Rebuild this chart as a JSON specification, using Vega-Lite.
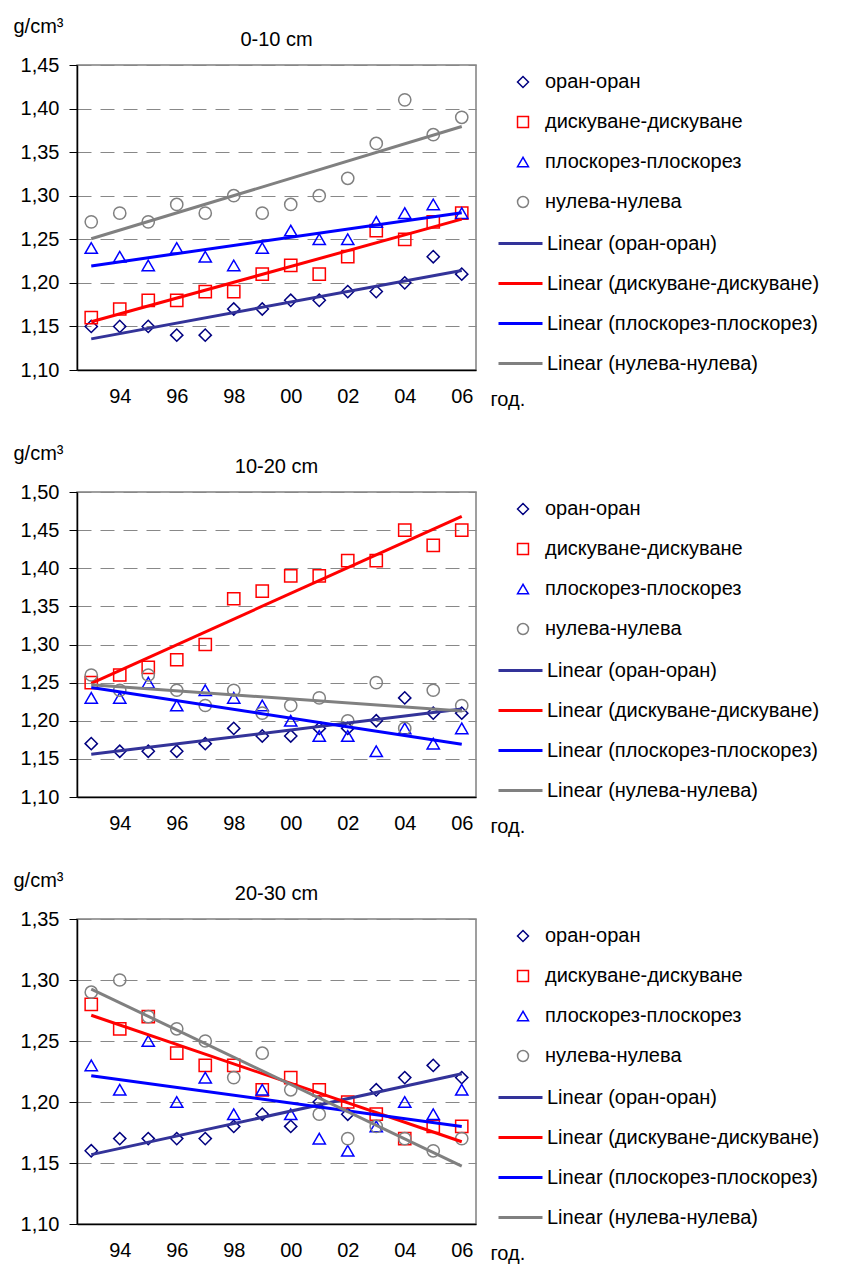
{
  "$schema": "https://vega.github.io/schema/vega-lite/v6.json",
  "padding": {"left": 12, "top": 15, "right": 5, "bottom": 5},
  "background": "white",
  "config": {
    "font": "Liberation Sans",
    "view": {"stroke": "#808080", "strokeWidth": 1.5},
    "title": {"fontSize": 20, "fontWeight": "normal", "color": "#000000", "offset": -34},
    "axis": {"labelFontSize": 20, "labelColor": "#000000", "labelOverlap": false, "titleFontSize": 20, "titleFontWeight": "normal", "titleColor": "#000000", "domainColor": "#000000", "domainWidth": 1.5, "tickColor": "#000000"},
    "legend": {"labelFontSize": 20, "labelColor": "#000000", "labelLimit": 400}
  },
  "datasets": {
    "d": [
      {"depth":"0-10","series":"оран-оран","trend":"Linear (оран-оран)","year":1993,"value":1.15},
      {"depth":"0-10","series":"оран-оран","trend":"Linear (оран-оран)","year":1994,"value":1.15},
      {"depth":"0-10","series":"оран-оран","trend":"Linear (оран-оран)","year":1995,"value":1.15},
      {"depth":"0-10","series":"оран-оран","trend":"Linear (оран-оран)","year":1996,"value":1.14},
      {"depth":"0-10","series":"оран-оран","trend":"Linear (оран-оран)","year":1997,"value":1.14},
      {"depth":"0-10","series":"оран-оран","trend":"Linear (оран-оран)","year":1998,"value":1.17},
      {"depth":"0-10","series":"оран-оран","trend":"Linear (оран-оран)","year":1999,"value":1.17},
      {"depth":"0-10","series":"оран-оран","trend":"Linear (оран-оран)","year":2000,"value":1.18},
      {"depth":"0-10","series":"оран-оран","trend":"Linear (оран-оран)","year":2001,"value":1.18},
      {"depth":"0-10","series":"оран-оран","trend":"Linear (оран-оран)","year":2002,"value":1.19},
      {"depth":"0-10","series":"оран-оран","trend":"Linear (оран-оран)","year":2003,"value":1.19},
      {"depth":"0-10","series":"оран-оран","trend":"Linear (оран-оран)","year":2004,"value":1.20},
      {"depth":"0-10","series":"оран-оран","trend":"Linear (оран-оран)","year":2005,"value":1.23},
      {"depth":"0-10","series":"оран-оран","trend":"Linear (оран-оран)","year":2006,"value":1.21},
      {"depth":"0-10","series":"дискуване-дискуване","trend":"Linear (дискуване-дискуване)","year":1993,"value":1.16},
      {"depth":"0-10","series":"дискуване-дискуване","trend":"Linear (дискуване-дискуване)","year":1994,"value":1.17},
      {"depth":"0-10","series":"дискуване-дискуване","trend":"Linear (дискуване-дискуване)","year":1995,"value":1.18},
      {"depth":"0-10","series":"дискуване-дискуване","trend":"Linear (дискуване-дискуване)","year":1996,"value":1.18},
      {"depth":"0-10","series":"дискуване-дискуване","trend":"Linear (дискуване-дискуване)","year":1997,"value":1.19},
      {"depth":"0-10","series":"дискуване-дискуване","trend":"Linear (дискуване-дискуване)","year":1998,"value":1.19},
      {"depth":"0-10","series":"дискуване-дискуване","trend":"Linear (дискуване-дискуване)","year":1999,"value":1.21},
      {"depth":"0-10","series":"дискуване-дискуване","trend":"Linear (дискуване-дискуване)","year":2000,"value":1.22},
      {"depth":"0-10","series":"дискуване-дискуване","trend":"Linear (дискуване-дискуване)","year":2001,"value":1.21},
      {"depth":"0-10","series":"дискуване-дискуване","trend":"Linear (дискуване-дискуване)","year":2002,"value":1.23},
      {"depth":"0-10","series":"дискуване-дискуване","trend":"Linear (дискуване-дискуване)","year":2003,"value":1.26},
      {"depth":"0-10","series":"дискуване-дискуване","trend":"Linear (дискуване-дискуване)","year":2004,"value":1.25},
      {"depth":"0-10","series":"дискуване-дискуване","trend":"Linear (дискуване-дискуване)","year":2005,"value":1.27},
      {"depth":"0-10","series":"дискуване-дискуване","trend":"Linear (дискуване-дискуване)","year":2006,"value":1.28},
      {"depth":"0-10","series":"плоскорез-плоскорез","trend":"Linear (плоскорез-плоскорез)","year":1993,"value":1.24},
      {"depth":"0-10","series":"плоскорез-плоскорез","trend":"Linear (плоскорез-плоскорез)","year":1994,"value":1.23},
      {"depth":"0-10","series":"плоскорез-плоскорез","trend":"Linear (плоскорез-плоскорез)","year":1995,"value":1.22},
      {"depth":"0-10","series":"плоскорез-плоскорез","trend":"Linear (плоскорез-плоскорез)","year":1996,"value":1.24},
      {"depth":"0-10","series":"плоскорез-плоскорез","trend":"Linear (плоскорез-плоскорез)","year":1997,"value":1.23},
      {"depth":"0-10","series":"плоскорез-плоскорез","trend":"Linear (плоскорез-плоскорез)","year":1998,"value":1.22},
      {"depth":"0-10","series":"плоскорез-плоскорез","trend":"Linear (плоскорез-плоскорез)","year":1999,"value":1.24},
      {"depth":"0-10","series":"плоскорез-плоскорез","trend":"Linear (плоскорез-плоскорез)","year":2000,"value":1.26},
      {"depth":"0-10","series":"плоскорез-плоскорез","trend":"Linear (плоскорез-плоскорез)","year":2001,"value":1.25},
      {"depth":"0-10","series":"плоскорез-плоскорез","trend":"Linear (плоскорез-плоскорез)","year":2002,"value":1.25},
      {"depth":"0-10","series":"плоскорез-плоскорез","trend":"Linear (плоскорез-плоскорез)","year":2003,"value":1.27},
      {"depth":"0-10","series":"плоскорез-плоскорез","trend":"Linear (плоскорез-плоскорез)","year":2004,"value":1.28},
      {"depth":"0-10","series":"плоскорез-плоскорез","trend":"Linear (плоскорез-плоскорез)","year":2005,"value":1.29},
      {"depth":"0-10","series":"плоскорез-плоскорез","trend":"Linear (плоскорез-плоскорез)","year":2006,"value":1.28},
      {"depth":"0-10","series":"нулева-нулева","trend":"Linear (нулева-нулева)","year":1993,"value":1.27},
      {"depth":"0-10","series":"нулева-нулева","trend":"Linear (нулева-нулева)","year":1994,"value":1.28},
      {"depth":"0-10","series":"нулева-нулева","trend":"Linear (нулева-нулева)","year":1995,"value":1.27},
      {"depth":"0-10","series":"нулева-нулева","trend":"Linear (нулева-нулева)","year":1996,"value":1.29},
      {"depth":"0-10","series":"нулева-нулева","trend":"Linear (нулева-нулева)","year":1997,"value":1.28},
      {"depth":"0-10","series":"нулева-нулева","trend":"Linear (нулева-нулева)","year":1998,"value":1.30},
      {"depth":"0-10","series":"нулева-нулева","trend":"Linear (нулева-нулева)","year":1999,"value":1.28},
      {"depth":"0-10","series":"нулева-нулева","trend":"Linear (нулева-нулева)","year":2000,"value":1.29},
      {"depth":"0-10","series":"нулева-нулева","trend":"Linear (нулева-нулева)","year":2001,"value":1.30},
      {"depth":"0-10","series":"нулева-нулева","trend":"Linear (нулева-нулева)","year":2002,"value":1.32},
      {"depth":"0-10","series":"нулева-нулева","trend":"Linear (нулева-нулева)","year":2003,"value":1.36},
      {"depth":"0-10","series":"нулева-нулева","trend":"Linear (нулева-нулева)","year":2004,"value":1.41},
      {"depth":"0-10","series":"нулева-нулева","trend":"Linear (нулева-нулева)","year":2005,"value":1.37},
      {"depth":"0-10","series":"нулева-нулева","trend":"Linear (нулева-нулева)","year":2006,"value":1.39},

      {"depth":"10-20","series":"оран-оран","trend":"Linear (оран-оран)","year":1993,"value":1.17},
      {"depth":"10-20","series":"оран-оран","trend":"Linear (оран-оран)","year":1994,"value":1.16},
      {"depth":"10-20","series":"оран-оран","trend":"Linear (оран-оран)","year":1995,"value":1.16},
      {"depth":"10-20","series":"оран-оран","trend":"Linear (оран-оран)","year":1996,"value":1.16},
      {"depth":"10-20","series":"оран-оран","trend":"Linear (оран-оран)","year":1997,"value":1.17},
      {"depth":"10-20","series":"оран-оран","trend":"Linear (оран-оран)","year":1998,"value":1.19},
      {"depth":"10-20","series":"оран-оран","trend":"Linear (оран-оран)","year":1999,"value":1.18},
      {"depth":"10-20","series":"оран-оран","trend":"Linear (оран-оран)","year":2000,"value":1.18},
      {"depth":"10-20","series":"оран-оран","trend":"Linear (оран-оран)","year":2001,"value":1.19},
      {"depth":"10-20","series":"оран-оран","trend":"Linear (оран-оран)","year":2002,"value":1.19},
      {"depth":"10-20","series":"оран-оран","trend":"Linear (оран-оран)","year":2003,"value":1.20},
      {"depth":"10-20","series":"оран-оран","trend":"Linear (оран-оран)","year":2004,"value":1.23},
      {"depth":"10-20","series":"оран-оран","trend":"Linear (оран-оран)","year":2005,"value":1.21},
      {"depth":"10-20","series":"оран-оран","trend":"Linear (оран-оран)","year":2006,"value":1.21},
      {"depth":"10-20","series":"дискуване-дискуване","trend":"Linear (дискуване-дискуване)","year":1993,"value":1.25},
      {"depth":"10-20","series":"дискуване-дискуване","trend":"Linear (дискуване-дискуване)","year":1994,"value":1.26},
      {"depth":"10-20","series":"дискуване-дискуване","trend":"Linear (дискуване-дискуване)","year":1995,"value":1.27},
      {"depth":"10-20","series":"дискуване-дискуване","trend":"Linear (дискуване-дискуване)","year":1996,"value":1.28},
      {"depth":"10-20","series":"дискуване-дискуване","trend":"Linear (дискуване-дискуване)","year":1997,"value":1.30},
      {"depth":"10-20","series":"дискуване-дискуване","trend":"Linear (дискуване-дискуване)","year":1998,"value":1.36},
      {"depth":"10-20","series":"дискуване-дискуване","trend":"Linear (дискуване-дискуване)","year":1999,"value":1.37},
      {"depth":"10-20","series":"дискуване-дискуване","trend":"Linear (дискуване-дискуване)","year":2000,"value":1.39},
      {"depth":"10-20","series":"дискуване-дискуване","trend":"Linear (дискуване-дискуване)","year":2001,"value":1.39},
      {"depth":"10-20","series":"дискуване-дискуване","trend":"Linear (дискуване-дискуване)","year":2002,"value":1.41},
      {"depth":"10-20","series":"дискуване-дискуване","trend":"Linear (дискуване-дискуване)","year":2003,"value":1.41},
      {"depth":"10-20","series":"дискуване-дискуване","trend":"Linear (дискуване-дискуване)","year":2004,"value":1.45},
      {"depth":"10-20","series":"дискуване-дискуване","trend":"Linear (дискуване-дискуване)","year":2005,"value":1.43},
      {"depth":"10-20","series":"дискуване-дискуване","trend":"Linear (дискуване-дискуване)","year":2006,"value":1.45},
      {"depth":"10-20","series":"плоскорез-плоскорез","trend":"Linear (плоскорез-плоскорез)","year":1993,"value":1.23},
      {"depth":"10-20","series":"плоскорез-плоскорез","trend":"Linear (плоскорез-плоскорез)","year":1994,"value":1.23},
      {"depth":"10-20","series":"плоскорез-плоскорез","trend":"Linear (плоскорез-плоскорез)","year":1995,"value":1.25},
      {"depth":"10-20","series":"плоскорез-плоскорез","trend":"Linear (плоскорез-плоскорез)","year":1996,"value":1.22},
      {"depth":"10-20","series":"плоскорез-плоскорез","trend":"Linear (плоскорез-плоскорез)","year":1997,"value":1.24},
      {"depth":"10-20","series":"плоскорез-плоскорез","trend":"Linear (плоскорез-плоскорез)","year":1998,"value":1.23},
      {"depth":"10-20","series":"плоскорез-плоскорез","trend":"Linear (плоскорез-плоскорез)","year":1999,"value":1.22},
      {"depth":"10-20","series":"плоскорез-плоскорез","trend":"Linear (плоскорез-плоскорез)","year":2000,"value":1.20},
      {"depth":"10-20","series":"плоскорез-плоскорез","trend":"Linear (плоскорез-плоскорез)","year":2001,"value":1.18},
      {"depth":"10-20","series":"плоскорез-плоскорез","trend":"Linear (плоскорез-плоскорез)","year":2002,"value":1.18},
      {"depth":"10-20","series":"плоскорез-плоскорез","trend":"Linear (плоскорез-плоскорез)","year":2003,"value":1.16},
      {"depth":"10-20","series":"плоскорез-плоскорез","trend":"Linear (плоскорез-плоскорез)","year":2004,"value":1.19},
      {"depth":"10-20","series":"плоскорез-плоскорез","trend":"Linear (плоскорез-плоскорез)","year":2005,"value":1.17},
      {"depth":"10-20","series":"плоскорез-плоскорез","trend":"Linear (плоскорез-плоскорез)","year":2006,"value":1.19},
      {"depth":"10-20","series":"нулева-нулева","trend":"Linear (нулева-нулева)","year":1993,"value":1.26},
      {"depth":"10-20","series":"нулева-нулева","trend":"Linear (нулева-нулева)","year":1994,"value":1.24},
      {"depth":"10-20","series":"нулева-нулева","trend":"Linear (нулева-нулева)","year":1995,"value":1.26},
      {"depth":"10-20","series":"нулева-нулева","trend":"Linear (нулева-нулева)","year":1996,"value":1.24},
      {"depth":"10-20","series":"нулева-нулева","trend":"Linear (нулева-нулева)","year":1997,"value":1.22},
      {"depth":"10-20","series":"нулева-нулева","trend":"Linear (нулева-нулева)","year":1998,"value":1.24},
      {"depth":"10-20","series":"нулева-нулева","trend":"Linear (нулева-нулева)","year":1999,"value":1.21},
      {"depth":"10-20","series":"нулева-нулева","trend":"Linear (нулева-нулева)","year":2000,"value":1.22},
      {"depth":"10-20","series":"нулева-нулева","trend":"Linear (нулева-нулева)","year":2001,"value":1.23},
      {"depth":"10-20","series":"нулева-нулева","trend":"Linear (нулева-нулева)","year":2002,"value":1.20},
      {"depth":"10-20","series":"нулева-нулева","trend":"Linear (нулева-нулева)","year":2003,"value":1.25},
      {"depth":"10-20","series":"нулева-нулева","trend":"Linear (нулева-нулева)","year":2004,"value":1.19},
      {"depth":"10-20","series":"нулева-нулева","trend":"Linear (нулева-нулева)","year":2005,"value":1.24},
      {"depth":"10-20","series":"нулева-нулева","trend":"Linear (нулева-нулева)","year":2006,"value":1.22},

      {"depth":"20-30","series":"оран-оран","trend":"Linear (оран-оран)","year":1993,"value":1.16},
      {"depth":"20-30","series":"оран-оран","trend":"Linear (оран-оран)","year":1994,"value":1.17},
      {"depth":"20-30","series":"оран-оран","trend":"Linear (оран-оран)","year":1995,"value":1.17},
      {"depth":"20-30","series":"оран-оран","trend":"Linear (оран-оран)","year":1996,"value":1.17},
      {"depth":"20-30","series":"оран-оран","trend":"Linear (оран-оран)","year":1997,"value":1.17},
      {"depth":"20-30","series":"оран-оран","trend":"Linear (оран-оран)","year":1998,"value":1.18},
      {"depth":"20-30","series":"оран-оран","trend":"Linear (оран-оран)","year":1999,"value":1.19},
      {"depth":"20-30","series":"оран-оран","trend":"Linear (оран-оран)","year":2000,"value":1.18},
      {"depth":"20-30","series":"оран-оран","trend":"Linear (оран-оран)","year":2001,"value":1.20},
      {"depth":"20-30","series":"оран-оран","trend":"Linear (оран-оран)","year":2002,"value":1.19},
      {"depth":"20-30","series":"оран-оран","trend":"Linear (оран-оран)","year":2003,"value":1.21},
      {"depth":"20-30","series":"оран-оран","trend":"Linear (оран-оран)","year":2004,"value":1.22},
      {"depth":"20-30","series":"оран-оран","trend":"Linear (оран-оран)","year":2005,"value":1.23},
      {"depth":"20-30","series":"оран-оран","trend":"Linear (оран-оран)","year":2006,"value":1.22},
      {"depth":"20-30","series":"дискуване-дискуване","trend":"Linear (дискуване-дискуване)","year":1993,"value":1.28},
      {"depth":"20-30","series":"дискуване-дискуване","trend":"Linear (дискуване-дискуване)","year":1994,"value":1.26},
      {"depth":"20-30","series":"дискуване-дискуване","trend":"Linear (дискуване-дискуване)","year":1995,"value":1.27},
      {"depth":"20-30","series":"дискуване-дискуване","trend":"Linear (дискуване-дискуване)","year":1996,"value":1.24},
      {"depth":"20-30","series":"дискуване-дискуване","trend":"Linear (дискуване-дискуване)","year":1997,"value":1.23},
      {"depth":"20-30","series":"дискуване-дискуване","trend":"Linear (дискуване-дискуване)","year":1998,"value":1.23},
      {"depth":"20-30","series":"дискуване-дискуване","trend":"Linear (дискуване-дискуване)","year":1999,"value":1.21},
      {"depth":"20-30","series":"дискуване-дискуване","trend":"Linear (дискуване-дискуване)","year":2000,"value":1.22},
      {"depth":"20-30","series":"дискуване-дискуване","trend":"Linear (дискуване-дискуване)","year":2001,"value":1.21},
      {"depth":"20-30","series":"дискуване-дискуване","trend":"Linear (дискуване-дискуване)","year":2002,"value":1.20},
      {"depth":"20-30","series":"дискуване-дискуване","trend":"Linear (дискуване-дискуване)","year":2003,"value":1.19},
      {"depth":"20-30","series":"дискуване-дискуване","trend":"Linear (дискуване-дискуване)","year":2004,"value":1.17},
      {"depth":"20-30","series":"дискуване-дискуване","trend":"Linear (дискуване-дискуване)","year":2005,"value":1.18},
      {"depth":"20-30","series":"дискуване-дискуване","trend":"Linear (дискуване-дискуване)","year":2006,"value":1.18},
      {"depth":"20-30","series":"плоскорез-плоскорез","trend":"Linear (плоскорез-плоскорез)","year":1993,"value":1.23},
      {"depth":"20-30","series":"плоскорез-плоскорез","trend":"Linear (плоскорез-плоскорез)","year":1994,"value":1.21},
      {"depth":"20-30","series":"плоскорез-плоскорез","trend":"Linear (плоскорез-плоскорез)","year":1995,"value":1.25},
      {"depth":"20-30","series":"плоскорез-плоскорез","trend":"Linear (плоскорез-плоскорез)","year":1996,"value":1.20},
      {"depth":"20-30","series":"плоскорез-плоскорез","trend":"Linear (плоскорез-плоскорез)","year":1997,"value":1.22},
      {"depth":"20-30","series":"плоскорез-плоскорез","trend":"Linear (плоскорез-плоскорез)","year":1998,"value":1.19},
      {"depth":"20-30","series":"плоскорез-плоскорез","trend":"Linear (плоскорез-плоскорез)","year":1999,"value":1.21},
      {"depth":"20-30","series":"плоскорез-плоскорез","trend":"Linear (плоскорез-плоскорез)","year":2000,"value":1.19},
      {"depth":"20-30","series":"плоскорез-плоскорез","trend":"Linear (плоскорез-плоскорез)","year":2001,"value":1.17},
      {"depth":"20-30","series":"плоскорез-плоскорез","trend":"Linear (плоскорез-плоскорез)","year":2002,"value":1.16},
      {"depth":"20-30","series":"плоскорез-плоскорез","trend":"Linear (плоскорез-плоскорез)","year":2003,"value":1.18},
      {"depth":"20-30","series":"плоскорез-плоскорез","trend":"Linear (плоскорез-плоскорез)","year":2004,"value":1.20},
      {"depth":"20-30","series":"плоскорез-плоскорез","trend":"Linear (плоскорез-плоскорез)","year":2005,"value":1.19},
      {"depth":"20-30","series":"плоскорез-плоскорез","trend":"Linear (плоскорез-плоскорез)","year":2006,"value":1.21},
      {"depth":"20-30","series":"нулева-нулева","trend":"Linear (нулева-нулева)","year":1993,"value":1.29},
      {"depth":"20-30","series":"нулева-нулева","trend":"Linear (нулева-нулева)","year":1994,"value":1.30},
      {"depth":"20-30","series":"нулева-нулева","trend":"Linear (нулева-нулева)","year":1995,"value":1.27},
      {"depth":"20-30","series":"нулева-нулева","trend":"Linear (нулева-нулева)","year":1996,"value":1.26},
      {"depth":"20-30","series":"нулева-нулева","trend":"Linear (нулева-нулева)","year":1997,"value":1.25},
      {"depth":"20-30","series":"нулева-нулева","trend":"Linear (нулева-нулева)","year":1998,"value":1.22},
      {"depth":"20-30","series":"нулева-нулева","trend":"Linear (нулева-нулева)","year":1999,"value":1.24},
      {"depth":"20-30","series":"нулева-нулева","trend":"Linear (нулева-нулева)","year":2000,"value":1.21},
      {"depth":"20-30","series":"нулева-нулева","trend":"Linear (нулева-нулева)","year":2001,"value":1.19},
      {"depth":"20-30","series":"нулева-нулева","trend":"Linear (нулева-нулева)","year":2002,"value":1.17},
      {"depth":"20-30","series":"нулева-нулева","trend":"Linear (нулева-нулева)","year":2003,"value":1.18},
      {"depth":"20-30","series":"нулева-нулева","trend":"Linear (нулева-нулева)","year":2004,"value":1.17},
      {"depth":"20-30","series":"нулева-нулева","trend":"Linear (нулева-нулева)","year":2005,"value":1.16},
      {"depth":"20-30","series":"нулева-нулева","trend":"Linear (нулева-нулева)","year":2006,"value":1.17}
    ]
  },
  "spacing": 122,
  "bounds": "flush",
  "resolve": {"scale": {"color": "independent", "shape": "independent", "x": "independent", "y": "independent"}},
  "vconcat": [
    {
      "width": 399, "height": 305,
      "title": {"text": "0-10 cm"},
      "data": {"name": "d"},
      "transform": [{"filter": "datum.depth === '0-10'"}],
      "resolve": {"scale": {"color": "independent", "shape": "independent"}},
      "encoding": {
        "x": {"field": "year", "type": "quantitative", "scale": {"domain": [1992.5, 2006.5], "nice": false, "zero": false},
              "axis": {"values": [1994, 1996, 1998, 2000, 2002, 2004, 2006], "labelExpr": "substring('' + datum.value, 2)", "labelOverlap": false, "ticks": false, "grid": false, "labelPadding": 16, "title": "год.", "titleX": 413, "titleY": 35, "titleAlign": "left", "titleBaseline": "alphabetic", "titleAnchor": null}},
        "y": {"field": "value", "type": "quantitative", "scale": {"domain": [1.10, 1.45], "nice": false, "zero": false},
              "axis": {"values": [1.10, 1.15, 1.20, 1.25, 1.30, 1.35, 1.40, 1.45], "labelExpr": "replace(format(datum.value, '.2f'), '.', ',')", "labelOverlap": false, "tickSize": 8, "labelPadding": 10, "grid": true, "gridColor": "#888888", "gridDash": [14, 9], "gridWidth": 1, "title": "g/cm³", "titleAngle": 0, "titleX": -64, "titleY": -33, "titleAlign": "left", "titleBaseline": "alphabetic", "titleAnchor": null}}
      },
      "layer": [
        {
          "mark": {"type": "point", "filled": false, "strokeWidth": 1.5, "size": 150, "opacity": 1},
          "encoding": {
            "color": {"field": "series", "type": "nominal", "scale": {"domain": ["оран-оран", "дискуване-дискуване", "плоскорез-плоскорез", "нулева-нулева"], "range": ["#000080", "#FF0000", "#0000FF", "#808080"]},
                      "legend": {"title": null, "orient": "none", "legendX": 436, "legendY": 7, "rowPadding": 20, "labelOffset": 12, "symbolSize": 120, "symbolStrokeWidth": 1.5}},
            "shape": {"field": "series", "type": "nominal", "scale": {"domain": ["оран-оран", "дискуване-дискуване", "плоскорез-плоскорез", "нулева-нулева"], "range": ["diamond", "square", "triangle-up", "circle"]},
                      "legend": {"title": null, "orient": "none", "legendX": 436, "legendY": 7, "rowPadding": 20, "labelOffset": 12, "symbolSize": 120, "symbolStrokeWidth": 1.5}}
          }
        },
        {
          "transform": [{"regression": "value", "on": "year", "groupby": ["trend"], "extent": [1993, 2006]}],
          "mark": {"type": "line", "strokeWidth": 3},
          "encoding": {
            "color": {"field": "trend", "type": "nominal", "scale": {"domain": ["Linear (оран-оран)", "Linear (дискуване-дискуване)", "Linear (плоскорез-плоскорез)", "Linear (нулева-нулева)"], "range": ["#333399", "#FF0000", "#0000FF", "#808080"]},
                      "legend": {"title": null, "orient": "none", "legendX": 420, "legendY": 155, "rowPadding": 6, "labelOffset": 3, "symbolType": "stroke", "symbolSize": 1936, "symbolStrokeWidth": 3}}
          }
        }
      ]
    },
    {
      "width": 399, "height": 305,
      "title": {"text": "10-20 cm"},
      "data": {"name": "d"},
      "transform": [{"filter": "datum.depth === '10-20'"}],
      "resolve": {"scale": {"color": "independent", "shape": "independent"}},
      "encoding": {
        "x": {"field": "year", "type": "quantitative", "scale": {"domain": [1992.5, 2006.5], "nice": false, "zero": false},
              "axis": {"values": [1994, 1996, 1998, 2000, 2002, 2004, 2006], "labelExpr": "substring('' + datum.value, 2)", "labelOverlap": false, "ticks": false, "grid": false, "labelPadding": 16, "title": "год.", "titleX": 413, "titleY": 35, "titleAlign": "left", "titleBaseline": "alphabetic", "titleAnchor": null}},
        "y": {"field": "value", "type": "quantitative", "scale": {"domain": [1.10, 1.50], "nice": false, "zero": false},
              "axis": {"values": [1.10, 1.15, 1.20, 1.25, 1.30, 1.35, 1.40, 1.45, 1.50], "labelExpr": "replace(format(datum.value, '.2f'), '.', ',')", "labelOverlap": false, "tickSize": 8, "labelPadding": 10, "grid": true, "gridColor": "#888888", "gridDash": [14, 9], "gridWidth": 1, "title": "g/cm³", "titleAngle": 0, "titleX": -64, "titleY": -33, "titleAlign": "left", "titleBaseline": "alphabetic", "titleAnchor": null}}
      },
      "layer": [
        {
          "mark": {"type": "point", "filled": false, "strokeWidth": 1.5, "size": 150, "opacity": 1},
          "encoding": {
            "color": {"field": "series", "type": "nominal", "scale": {"domain": ["оран-оран", "дискуване-дискуване", "плоскорез-плоскорез", "нулева-нулева"], "range": ["#000080", "#FF0000", "#0000FF", "#808080"]},
                      "legend": {"title": null, "orient": "none", "legendX": 436, "legendY": 7, "rowPadding": 20, "labelOffset": 12, "symbolSize": 120, "symbolStrokeWidth": 1.5}},
            "shape": {"field": "series", "type": "nominal", "scale": {"domain": ["оран-оран", "дискуване-дискуване", "плоскорез-плоскорез", "нулева-нулева"], "range": ["diamond", "square", "triangle-up", "circle"]},
                      "legend": {"title": null, "orient": "none", "legendX": 436, "legendY": 7, "rowPadding": 20, "labelOffset": 12, "symbolSize": 120, "symbolStrokeWidth": 1.5}}
          }
        },
        {
          "transform": [{"regression": "value", "on": "year", "groupby": ["trend"], "extent": [1993, 2006]}],
          "mark": {"type": "line", "strokeWidth": 3},
          "encoding": {
            "color": {"field": "trend", "type": "nominal", "scale": {"domain": ["Linear (оран-оран)", "Linear (дискуване-дискуване)", "Linear (плоскорез-плоскорез)", "Linear (нулева-нулева)"], "range": ["#333399", "#FF0000", "#0000FF", "#808080"]},
                      "legend": {"title": null, "orient": "none", "legendX": 420, "legendY": 155, "rowPadding": 6, "labelOffset": 3, "symbolType": "stroke", "symbolSize": 1936, "symbolStrokeWidth": 3}}
          }
        }
      ]
    },
    {
      "width": 399, "height": 305,
      "title": {"text": "20-30 cm"},
      "data": {"name": "d"},
      "transform": [{"filter": "datum.depth === '20-30'"}],
      "resolve": {"scale": {"color": "independent", "shape": "independent"}},
      "encoding": {
        "x": {"field": "year", "type": "quantitative", "scale": {"domain": [1992.5, 2006.5], "nice": false, "zero": false},
              "axis": {"values": [1994, 1996, 1998, 2000, 2002, 2004, 2006], "labelExpr": "substring('' + datum.value, 2)", "labelOverlap": false, "ticks": false, "grid": false, "labelPadding": 16, "title": "год.", "titleX": 413, "titleY": 35, "titleAlign": "left", "titleBaseline": "alphabetic", "titleAnchor": null}},
        "y": {"field": "value", "type": "quantitative", "scale": {"domain": [1.10, 1.35], "nice": false, "zero": false},
              "axis": {"values": [1.10, 1.15, 1.20, 1.25, 1.30, 1.35], "labelExpr": "replace(format(datum.value, '.2f'), '.', ',')", "labelOverlap": false, "tickSize": 8, "labelPadding": 10, "grid": true, "gridColor": "#888888", "gridDash": [14, 9], "gridWidth": 1, "title": "g/cm³", "titleAngle": 0, "titleX": -64, "titleY": -33, "titleAlign": "left", "titleBaseline": "alphabetic", "titleAnchor": null}}
      },
      "layer": [
        {
          "mark": {"type": "point", "filled": false, "strokeWidth": 1.5, "size": 150, "opacity": 1},
          "encoding": {
            "color": {"field": "series", "type": "nominal", "scale": {"domain": ["оран-оран", "дискуване-дискуване", "плоскорез-плоскорез", "нулева-нулева"], "range": ["#000080", "#FF0000", "#0000FF", "#808080"]},
                      "legend": {"title": null, "orient": "none", "legendX": 436, "legendY": 7, "rowPadding": 20, "labelOffset": 12, "symbolSize": 120, "symbolStrokeWidth": 1.5}},
            "shape": {"field": "series", "type": "nominal", "scale": {"domain": ["оран-оран", "дискуване-дискуване", "плоскорез-плоскорез", "нулева-нулева"], "range": ["diamond", "square", "triangle-up", "circle"]},
                      "legend": {"title": null, "orient": "none", "legendX": 436, "legendY": 7, "rowPadding": 20, "labelOffset": 12, "symbolSize": 120, "symbolStrokeWidth": 1.5}}
          }
        },
        {
          "transform": [{"regression": "value", "on": "year", "groupby": ["trend"], "extent": [1993, 2006]}],
          "mark": {"type": "line", "strokeWidth": 3},
          "encoding": {
            "color": {"field": "trend", "type": "nominal", "scale": {"domain": ["Linear (оран-оран)", "Linear (дискуване-дискуване)", "Linear (плоскорез-плоскорез)", "Linear (нулева-нулева)"], "range": ["#333399", "#FF0000", "#0000FF", "#808080"]},
                      "legend": {"title": null, "orient": "none", "legendX": 420, "legendY": 155, "rowPadding": 6, "labelOffset": 3, "symbolType": "stroke", "symbolSize": 1936, "symbolStrokeWidth": 3}}
          }
        }
      ]
    }
  ]
}
